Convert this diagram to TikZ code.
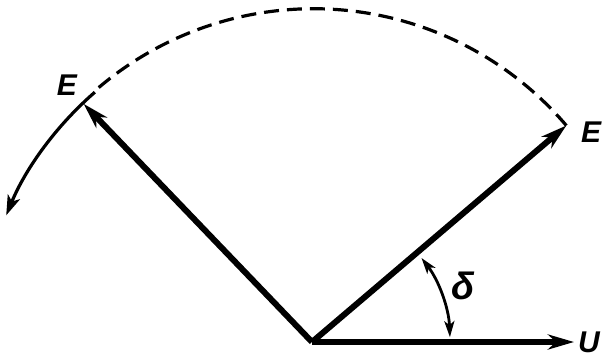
\documentclass[tikz,border=0pt]{standalone}
\usepackage{fontspec}
\setmainfont{Liberation Sans}
\usetikzlibrary{arrows.meta,calc}
\begin{document}
\begin{tikzpicture}[x=1pt,y=1pt,
  vec/.style={line width=6pt,-{Stealth[length=26pt,width=15pt,inset=8pt]}},
  arcline/.style={line width=3.2pt},
  lbl/.style={font=\fontsize{30}{30}\selectfont\bfseries\itshape, inner sep=0pt}]
\useasboundingbox (0,0) rectangle (605,360);
\coordinate (O) at (312,18);
\coordinate (Er) at ($(O)+(40.4:334)$);
\coordinate (El) at ($(O)+(133.8:330)$);
\coordinate (Ut) at (574,18);
\coordinate (As) at ($(O)+(131:331)$);
\coordinate (Ae) at ($(O)+(157.5:330)$);
% vectors
\draw[vec] (O) -- (Ut);
\draw[vec] (O) -- (Er);
\draw[vec] (O) -- (El);
% arcs
\draw[arcline, dash pattern=on 15pt off 8pt] (Er) arc[start angle=40.4, end angle=131, radius=332];
\draw[arcline,-{Stealth[length=20pt,width=13pt,inset=5pt]}] (As) arc[start angle=131, end angle=157.5, radius=331];
% delta arc
\coordinate (Ds) at ($(O)+(37.5:138)$);
\draw[line width=2.8pt,{Stealth[length=16pt,width=10pt,inset=4pt]}-{Stealth[length=16pt,width=10pt,inset=4pt]}] (Ds) arc[start angle=37.5, end angle=2, radius=138];
% labels
\node[lbl] (LEl) at (67,275) {E};
\node[lbl] (LEr) at (591,228) {E};
\node[lbl] (LU) at (589,18) {U};
\node[lbl, font=\fontsize{38}{38}\selectfont\bfseries\itshape] (Ld) at (463,74) {δ};
\end{tikzpicture}
\end{document}
